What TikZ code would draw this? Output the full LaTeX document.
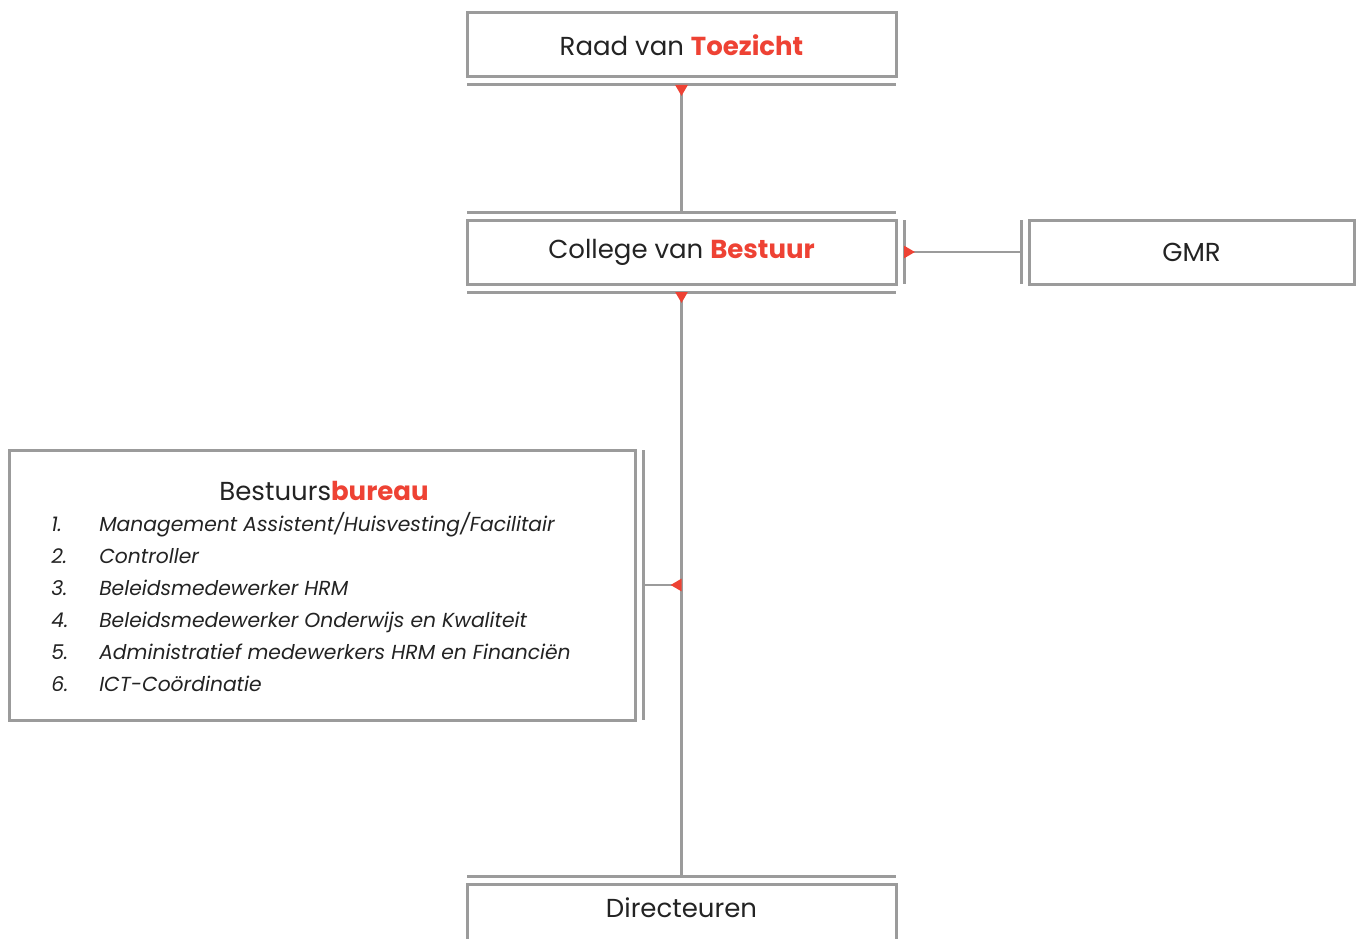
\documentclass[tikz,border=0pt]{standalone}
\usepackage{fontspec}
\setmainfont{Poppins}
\usetikzlibrary{arrows.meta}
\definecolor{frameGray}{RGB}{155,155,155}
\definecolor{accentRed}{RGB}{238,66,52}
\definecolor{inkDark}{RGB}{35,35,35}
\newcommand{\hl}[1]{\textcolor{accentRed}{\bfseries #1}}
\tikzstyle{orgchart}=[%
    every path/.style = {%
		frameGray,
		line width=2.5pt
    },%
	unitBox/.style={%
		draw=frameGray,
		line width=3pt,
		outer sep=0pt,
		text=inkDark,
		font=\fontsize{26}{31}\selectfont
	},
	listText/.style={%
		inner sep=0pt,
		text=inkDark,
		font=\fontsize{20.3}{24}\selectfont\itshape
	},
	barLine/.style={%
		line width=3pt
	},
	tipStart/.style={%
		{Triangle[reversed, length=11pt, width=12pt, color=accentRed]}-
	}
]

\begin{document}
\begin{tikzpicture}[
	x=1pt, y=-1pt,
	orgchart
]
	\fill[white] (0,0) rectangle (1358,939);
	\useasboundingbox (0,0) rectangle (1358,939);

	\node[unitBox, minimum width=429, minimum height=64] (raad) at (681.5,45) {Raad van \hl{Toezicht}};
	\node[unitBox, minimum width=429, minimum height=64] (college) at (681.5,252) {College van \hl{Bestuur}};
	\node[unitBox, minimum width=325, minimum height=64] (gmr) at (1191.5,252) {GMR};
	\node[unitBox, draw=none, minimum width=429, minimum height=48] (dir) at (681.5,908) {Directeuren};
	\node[unitBox, minimum width=626, minimum height=270] (bureau) at (322,585) {};

	% open box at the bottom edge
	\draw[barLine] ([yshift=-40pt]dir.south west) |- (dir.north east) -- ([yshift=-40pt]dir.south east);

	% double lines
	\draw[barLine] ([yshift=-8pt]raad.south west) -- ([yshift=-8pt]raad.south east);
	\draw[barLine] ([yshift=8pt]college.north west) -- ([yshift=8pt]college.north east);
	\draw[barLine] ([yshift=-8pt]college.south west) -- ([yshift=-8pt]college.south east);
	\draw[barLine] ([xshift=8pt]college.north east) -- ([xshift=8pt]college.south east);
	\draw[barLine] ([xshift=-8pt]gmr.north west) -- ([xshift=-8pt]gmr.south west);
	\draw[barLine] ([xshift=8pt]bureau.north east) -- ([xshift=8pt]bureau.south east);
	\draw[barLine] ([yshift=8pt]dir.north west) -- ([yshift=8pt]dir.north east);

	% connectors
	\draw[tipStart] ([yshift=-8pt]raad.south) -- ([yshift=8pt]college.north);
	\draw[tipStart] ([xshift=8pt]college.east) -- ([xshift=-8pt]gmr.west);
	\draw[tipStart] ([yshift=-8pt]college.south) -- ([yshift=8pt]dir.north);
	\draw[tipStart] (college.south |- bureau.east) -- ([xshift=8pt]bureau.east);

	\node[unitBox, draw=none, inner sep=0pt] (bureauTitle) at (324,491) {Bestuurs\hl{bureau}};
	\foreach \task [count=\n] in {Management Assistent/Huisvesting/Facilitair, Controller, Beleidsmedewerker HRM, Beleidsmedewerker Onderwijs en Kwaliteit, Administratief medewerkers HRM en Financiën, ICT-Coördinatie} {
		\node[listText, anchor=base west] (num\n) at (50,{531+32*(\n-1)}) {\n.};
		\node[listText, anchor=base west] (task\n) at (98,{531+32*(\n-1)}) {\task};
	}
\end{tikzpicture}
\end{document}
